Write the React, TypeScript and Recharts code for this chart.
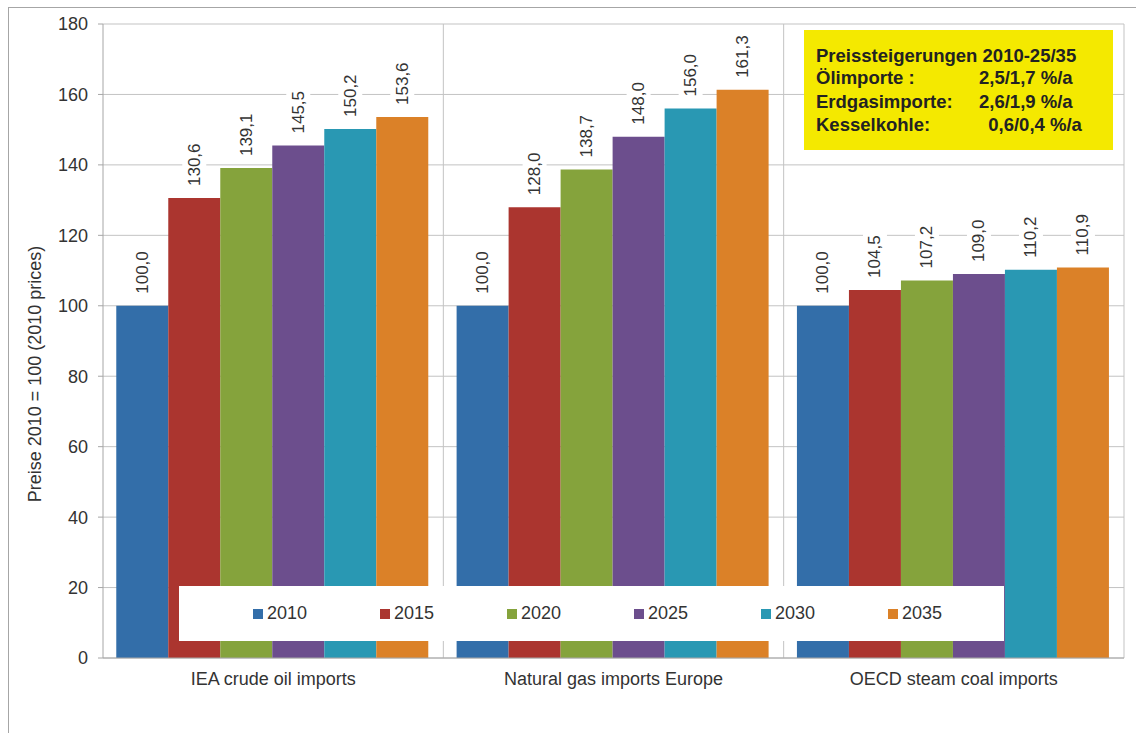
import { BarChart, Bar, XAxis, YAxis, CartesianGrid, Legend, LabelList } from "recharts";

const FONT = "'Liberation Sans', Arial, sans-serif";
const TEXT = "#333333";
const GRID = "#c3c3c3";
const AXIS = "#a6a6a6";

const categories = [
  "IEA crude oil imports",
  "Natural gas imports Europe",
  "OECD steam coal imports",
];
const years = ["2010", "2015", "2020", "2025", "2030", "2035"];
const yearColors = ["#336ea9", "#ab352f", "#85a33c", "#6c4e8d", "#2998b3", "#db8128"];

const v2010 = [100.0, 100.0, 100.0];
const v2015 = [130.6, 128.0, 104.5];
const v2020 = [139.1, 138.7, 107.2];
const v2025 = [145.5, 148.0, 109.0];
const v2030 = [150.2, 156.0, 110.2];
const v2035 = [153.6, 161.3, 110.9];
const seriesValues = [v2010, v2015, v2020, v2025, v2030, v2035];

const yTicks = [0, 20, 40, 60, 80, 100, 120, 140, 160, 180];
// category boundaries, used for the small tick marks under the x axis
const edgeTicks = [0, 1, 2, 3];
const yLabel = "Preise 2010 = 100 (2010 prices)";

const noteTitle = "Preissteigerungen 2010-25/35";
const noteRows = [
  ["Ölimporte :", "2,5/1,7 %/a"],
  ["Erdgasimporte:", "2,6/1,9 %/a"],
  ["Kesselkohle:", "\u20020,6/0,4 %/a"],
];

const data = categories.map((name, i) => {
  const row: Record<string, string | number> = { name };
  years.forEach((y, s) => {
    row[y] = seriesValues[s][i];
  });
  return row;
});

const fmt = (v: number) => v.toFixed(1).replace(".", ",");

// rotated value label sitting on a white box above each bar
function ValueLabel(props: any) {
  const { x, y, width, value } = props;
  const text = fmt(Number(value));
  const len = text.length * 9.2;
  return (
    <g transform={`translate(${x + width / 2},${y - 12}) rotate(-90)`}>
      <rect x={-3} y={-12} width={len + 6} height={24} fill="#ffffff" />
      <text x={0} y={0} dominantBaseline="central" fontSize={17} fontFamily={FONT} fill={TEXT}>
        {text}
      </text>
    </g>
  );
}

function LegendBox({ payload }: any) {
  return (
    <div
      style={{
        background: "#ffffff",
        width: 825,
        height: 55,
        boxSizing: "border-box",
        paddingLeft: 74,
        display: "flex",
        alignItems: "center",
        fontFamily: FONT,
        fontSize: 18,
        color: TEXT,
        overflow: "hidden",
      }}
    >
      {(payload || []).map((p: any) => (
        <div
          key={p.value}
          style={{ width: 127, flexShrink: 0, display: "flex", alignItems: "center" }}
        >
          <span
            style={{ width: 10, height: 10, background: p.color, marginRight: 4, display: "inline-block" }}
          />
          {p.value}
        </div>
      ))}
    </div>
  );
}

function NoteBox() {
  return (
    <svg
      width={320}
      height={130}
      style={{ position: "absolute", left: 795, top: 22, pointerEvents: "none" }}
    >
      <rect x={0} y={0} width={309} height={120} fill="#f4e900" />
      <g fontFamily={FONT} fontWeight="bold" fontSize={18.5} fill="#222222">
        <text x={12} y={32}>{noteTitle}</text>
        {noteRows.map((r, i) => (
          <g key={r[0]}>
            <text x={12} y={54 + i * 23.5}>{r[0]}</text>
            <text x={175} y={54 + i * 23.5} style={{ whiteSpace: "pre" }}>{r[1]}</text>
          </g>
        ))}
      </g>
    </svg>
  );
}

export default function App() {
  return (
    <div
      style={{
        position: "fixed",
        left: 8,
        top: 7,
        width: 1127,
        height: 725,
        borderLeft: `1px solid ${AXIS}`,
        borderTop: `1px solid ${AXIS}`,
        background: "#ffffff",
      }}
    >
      <BarChart
        width={1127}
        height={725}
        data={data}
        margin={{ top: 16, right: 12, bottom: 35, left: 0 }}
        barCategoryGap="3.9%"
        barGap={0}
      >
        <CartesianGrid
          stroke={GRID}
          verticalCoordinatesGenerator={({ offset }: any) => [
            offset.left + offset.width / 3,
            offset.left + (2 * offset.width) / 3,
            offset.left + offset.width,
          ]}
        />
        <XAxis
          xAxisId="edges"
          type="number"
          domain={[0, 3]}
          ticks={edgeTicks}
          interval={0}
          height={0}
          axisLine={false}
          tick={() => <g />}
          tickLine={{ stroke: AXIS }}
          tickSize={6}
        />
        <XAxis
          dataKey="name"
          height={40}
          axisLine={{ stroke: AXIS }}
          tickLine={false}
          tickSize={6}
          tickMargin={8}
          tick={{ fontSize: 18, fontFamily: FONT, fill: TEXT }}
        />
        <YAxis
          width={94}
          domain={[0, 180]}
          ticks={yTicks}
          interval={0}
          axisLine={{ stroke: AXIS }}
          tickLine={{ stroke: AXIS }}
          tickSize={5}
          tickMargin={10}
          tick={{ fontSize: 18, fontFamily: FONT, fill: TEXT }}
          label={{
            content: () => (
              <text
                transform="translate(26,366) rotate(-90)"
                textAnchor="middle"
                dominantBaseline="central"
                fontSize={18}
                fontFamily={FONT}
                fill={TEXT}
              >
                {yLabel}
              </text>
            ),
          }}
        />
        <Legend
          layout="horizontal"
          verticalAlign="middle"
          align="center"
          content={<LegendBox />}
          wrapperStyle={{ left: 170, top: 578, width: 825, height: 55 }}
        />
        {years.map((y, i) => (
          <Bar key={y} dataKey={y} name={y} fill={yearColors[i]} isAnimationActive={false}>
            <LabelList dataKey={y} content={<ValueLabel />} />
          </Bar>
        ))}
      </BarChart>
      <NoteBox />
    </div>
  );
}
